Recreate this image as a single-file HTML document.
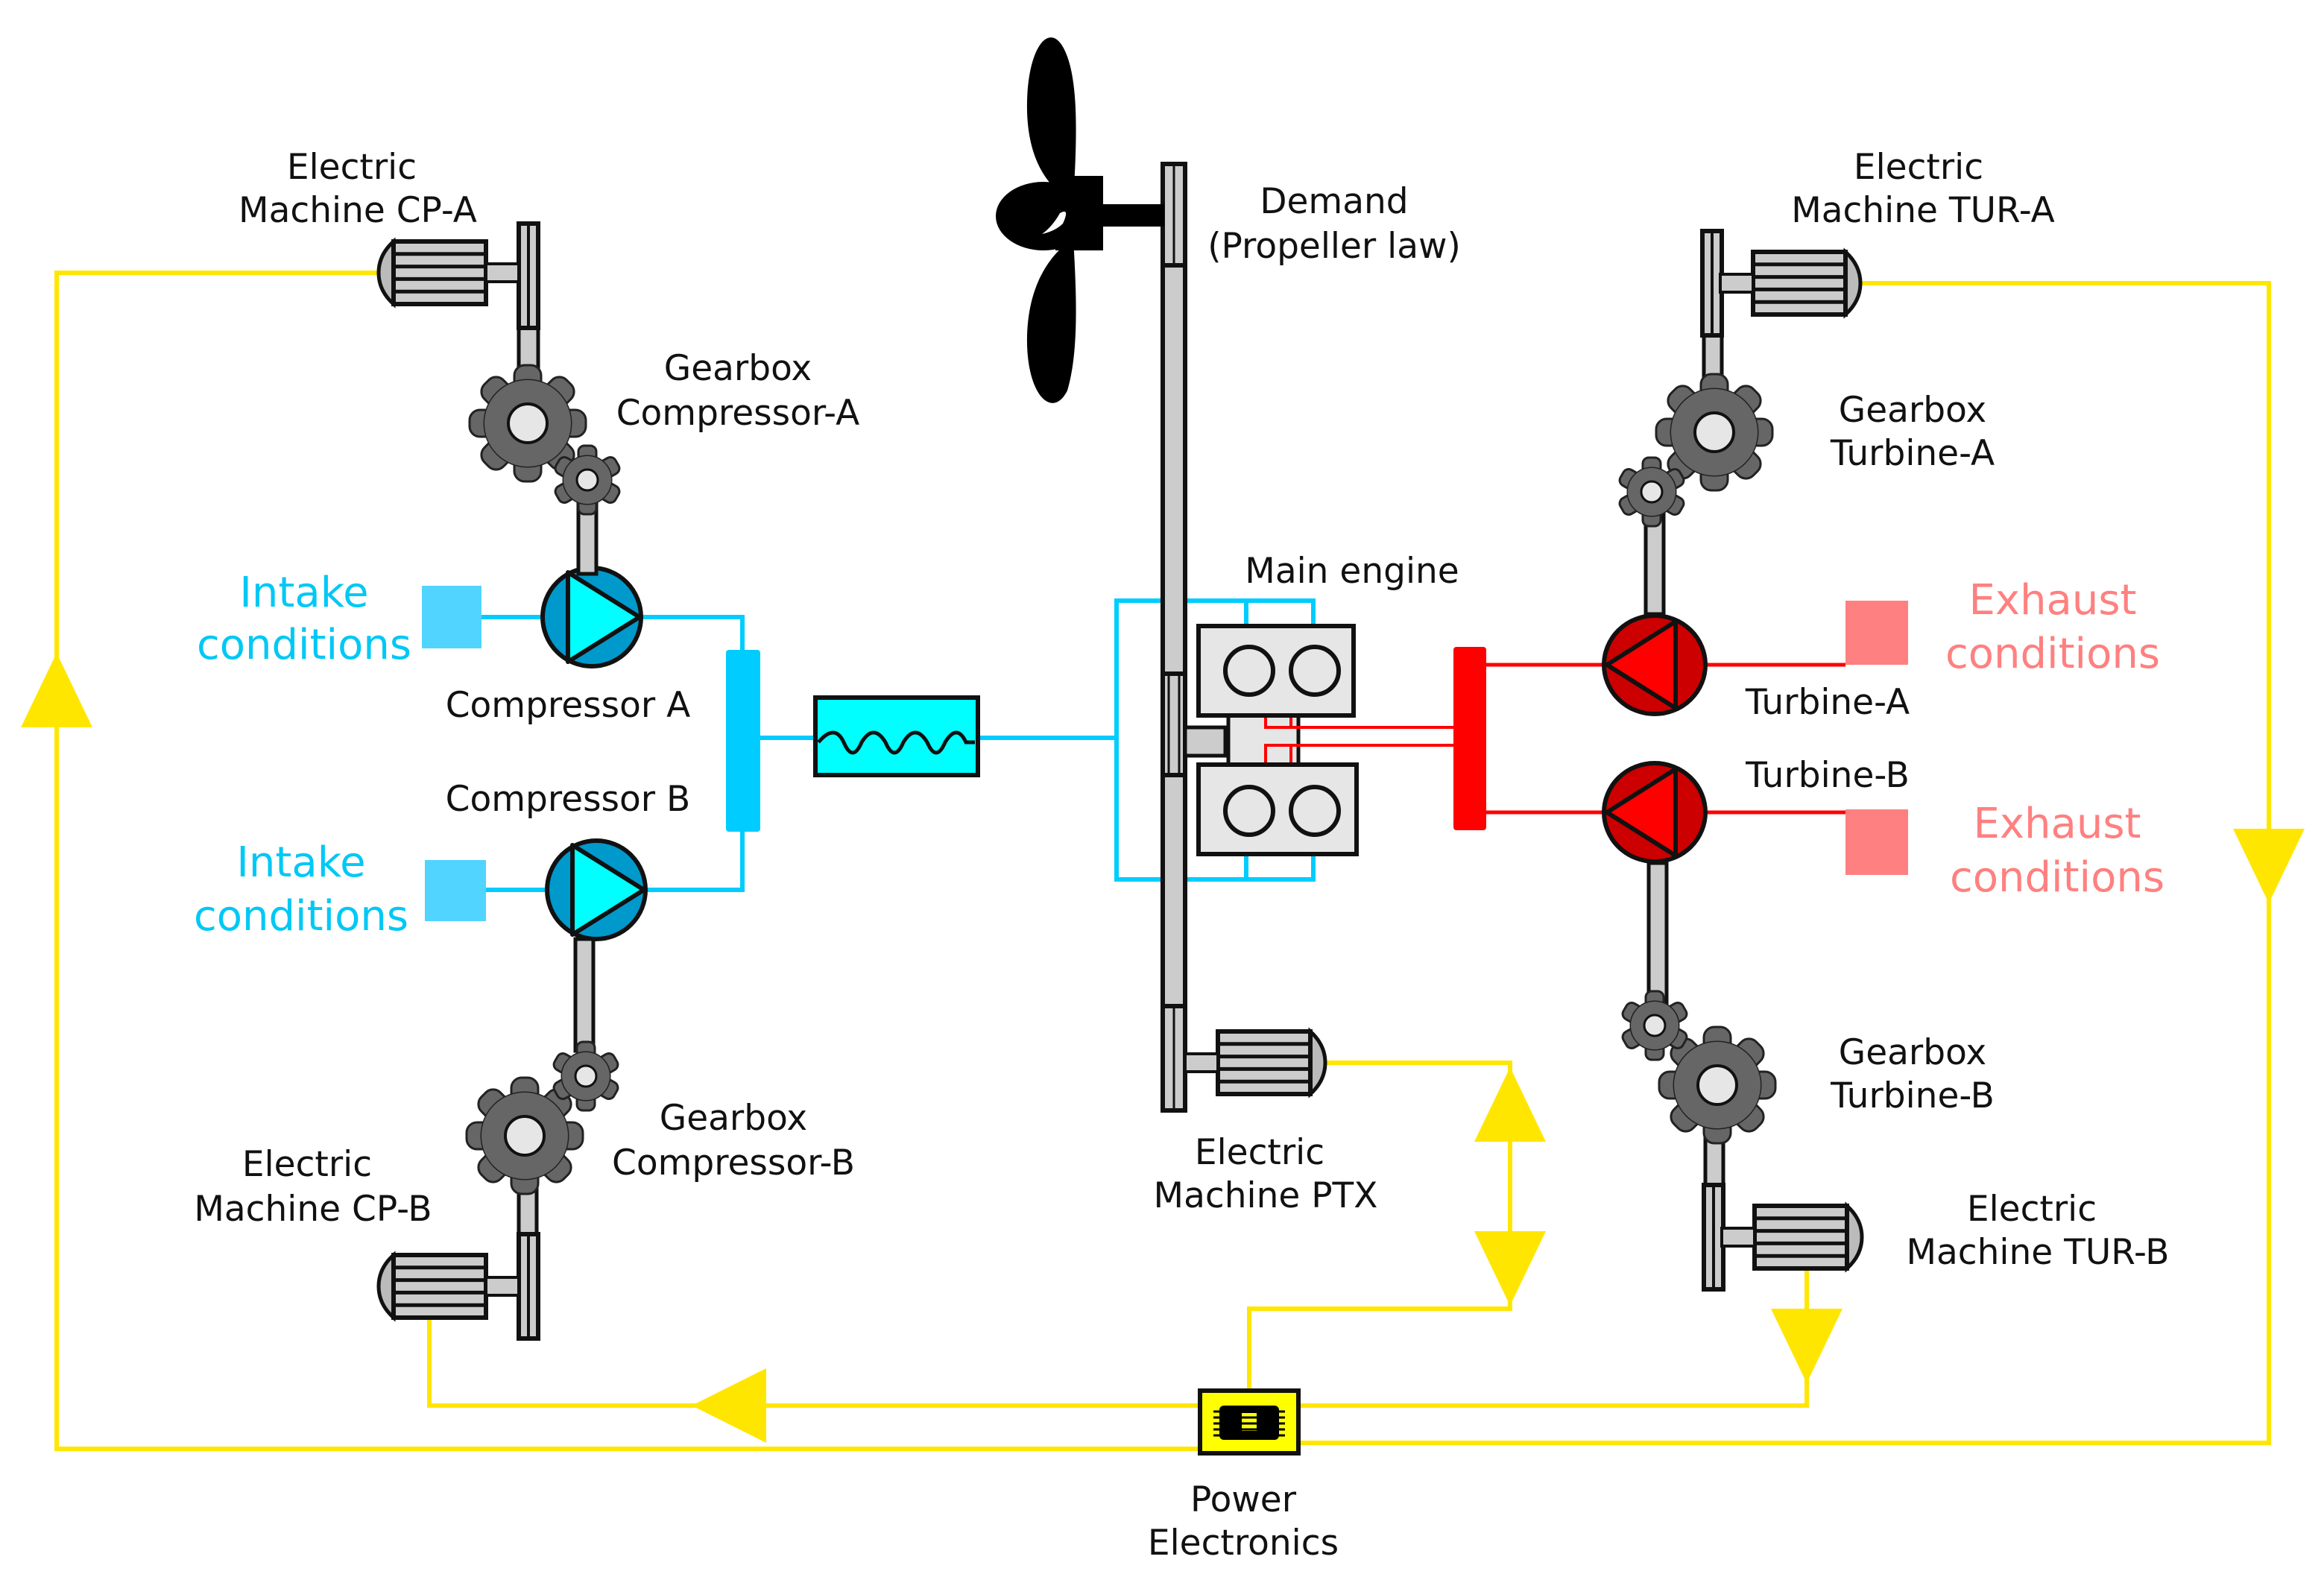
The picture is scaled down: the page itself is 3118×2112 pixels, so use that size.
<!DOCTYPE html>
<html><head><meta charset="utf-8"><style>
html,body{margin:0;padding:0;background:#fff;}
svg{display:block;}
text{font-family:"DejaVu Sans","Liberation Sans",sans-serif;font-size:23.5px;fill:#111;text-anchor:middle;}
.c{fill:#00c8f5;font-size:28px;}
.r{fill:#ff8080;font-size:28px;}
</style></head><body>
<svg width="3118" height="2112" viewBox="0 0 1559 1056" xmlns="http://www.w3.org/2000/svg">
<defs>
<g id="gearB">
  <g fill="#666" stroke="#222" stroke-width="1.5">
    <rect x="-9" y="-39" width="18" height="18" rx="7"/>
    <rect x="-9" y="-39" width="18" height="18" rx="7" transform="rotate(45)"/>
    <rect x="-9" y="-39" width="18" height="18" rx="7" transform="rotate(90)"/>
    <rect x="-9" y="-39" width="18" height="18" rx="7" transform="rotate(135)"/>
    <rect x="-9" y="-39" width="18" height="18" rx="7" transform="rotate(180)"/>
    <rect x="-9" y="-39" width="18" height="18" rx="7" transform="rotate(225)"/>
    <rect x="-9" y="-39" width="18" height="18" rx="7" transform="rotate(270)"/>
    <rect x="-9" y="-39" width="18" height="18" rx="7" transform="rotate(315)"/>
    <circle r="29"/>
  </g>
  <circle r="29" fill="#666"/>
  <circle r="13" fill="#e6e6e6" stroke="#111" stroke-width="2"/>
</g>
<g id="gearS">
  <g fill="#666" stroke="#222" stroke-width="1.5">
    <rect x="-6" y="-23" width="12" height="11" rx="4"/>
    <rect x="-6" y="-23" width="12" height="11" rx="4" transform="rotate(60)"/>
    <rect x="-6" y="-23" width="12" height="11" rx="4" transform="rotate(120)"/>
    <rect x="-6" y="-23" width="12" height="11" rx="4" transform="rotate(180)"/>
    <rect x="-6" y="-23" width="12" height="11" rx="4" transform="rotate(240)"/>
    <rect x="-6" y="-23" width="12" height="11" rx="4" transform="rotate(300)"/>
    <circle r="16"/>
  </g>
  <circle r="16" fill="#666"/>
  <circle r="7" fill="#e6e6e6" stroke="#111" stroke-width="1.5"/>
</g>
<g id="motorL">
  <path d="M2,-21 Q-8,-12 -8,0 Q-8,12 2,21 Z" fill="#bbb" stroke="#111" stroke-width="2.5"/>
  <rect x="2" y="-21" width="62" height="42" fill="#ccc" stroke="#111" stroke-width="3"/>
  <g stroke="#111" stroke-width="2.5"><line x1="2" y1="-12.6" x2="64" y2="-12.6"/><line x1="2" y1="-4.2" x2="64" y2="-4.2"/><line x1="2" y1="4.2" x2="64" y2="4.2"/><line x1="2" y1="12.6" x2="64" y2="12.6"/></g>
  <rect x="64" y="-6" width="22" height="12" fill="#ccc" stroke="#111" stroke-width="2"/>
</g>
<g id="vbar">
  <rect x="0" y="0" width="13" height="70" fill="#ccc" stroke="#111" stroke-width="3"/>
  <line x1="6.5" y1="0" x2="6.5" y2="70" stroke="#111" stroke-width="2"/>
</g>
</defs>

<g fill="none" stroke="#ffe600" stroke-width="3">
  <polyline points="255,183 38,183 38,972 806,972"/>
  <polyline points="288,884 288,943 806,943"/>
  <polyline points="1248,190 1522,190 1522,968 870,968"/>
  <polyline points="870,943 1212,943 1212,852"/>
  <polyline points="888,713 1013,713 1013,878 838,878 838,934"/>
</g>
<g fill="#ffe600">
  <polygon points="38,438 14,488 62,488"/>
  <polygon points="1522,606 1498,556 1546,556"/>
  <polygon points="464,943 514,918 514,968"/>
  <polygon points="1013,716 989,766 1037,766"/>
  <polygon points="1013,876 989,826 1037,826"/>
  <polygon points="1212,928 1188,878 1236,878"/>
</g>
<rect x="805" y="933" width="66" height="42" fill="#ffff00" stroke="#111" stroke-width="3"/>
<rect x="818" y="943" width="40" height="23" rx="3" fill="#000"/>
<rect x="833" y="948" width="10" height="12" fill="#ffff00"/>
<g stroke="#000" stroke-width="1.5"><line x1="814" y1="947" x2="862" y2="947"/><line x1="814" y1="951" x2="862" y2="951"/><line x1="814" y1="955" x2="862" y2="955"/><line x1="814" y1="959" x2="862" y2="959"/><line x1="814" y1="963" x2="862" y2="963"/></g>

<g fill="none" stroke="#00ccff" stroke-width="3">
  <line x1="323" y1="414" x2="365" y2="414"/>
  <polyline points="430,414 498,414 498,440"/>
  <line x1="326" y1="597" x2="368" y2="597"/>
  <polyline points="434,597 498,597 498,556"/>
  <line x1="510" y1="495" x2="548" y2="495"/>
  <line x1="656" y1="495" x2="749" y2="495"/>
  <polyline points="836,420 836,403 749,403 749,590 836,590 836,573"/>
  <polyline points="836,403 881,403 881,420"/>
  <polyline points="836,590 881,590 881,573"/>
</g>
<rect x="283" y="393" width="40" height="42" fill="#33ccff" opacity="0.85"/>
<rect x="285" y="577" width="41" height="41" fill="#33ccff" opacity="0.85"/>
<rect x="487" y="436" width="23" height="122" rx="2" fill="#00ccff"/>
<rect x="547" y="468" width="109" height="52" fill="#00ffff" stroke="#111" stroke-width="3"/>
<path d="M549,498 Q560,485 566,498 Q572,512 578,498 Q586,485 594,498 Q600,512 606,498 Q614,485 622,498 Q628,512 634,498 Q642,485 648,498 L654,498" fill="none" stroke="#111" stroke-width="2.5"/>

<g>
  <ellipse cx="397" cy="414" rx="33" ry="33" fill="#0099cc" stroke="#111" stroke-width="3"/>
  <polygon points="381,384 429,414 381,444" fill="#00ffff" stroke="#111" stroke-width="3" stroke-linejoin="round"/>
  <ellipse cx="400" cy="597" rx="33" ry="33" fill="#0099cc" stroke="#111" stroke-width="3"/>
  <polygon points="384,567 432,597 384,627" fill="#00ffff" stroke="#111" stroke-width="3" stroke-linejoin="round"/>
</g>

<g fill="none" stroke="#ff0000" stroke-width="2.5">
  <line x1="997" y1="446" x2="1076" y2="446"/>
  <line x1="1144" y1="446" x2="1238" y2="446"/>
  <line x1="997" y1="545" x2="1076" y2="545"/>
  <line x1="1144" y1="545" x2="1238" y2="545"/>
</g>
<rect x="1238" y="403" width="42" height="43" fill="#ff8080"/>
<rect x="1238" y="543" width="42" height="44" fill="#ff8080"/>
<rect x="975" y="434" width="22" height="123" rx="2" fill="#ff0000"/>

<rect x="348" y="218" width="13" height="40" fill="#ccc" stroke="#111" stroke-width="2.5"/>
<rect x="388" y="335" width="12" height="50" fill="#ccc" stroke="#111" stroke-width="2.5"/>
<use href="#vbar" x="348" y="150"/>
<use href="#motorL" x="262" y="183"/>
<use href="#gearB" x="354" y="284"/>
<use href="#gearS" x="394" y="322"/>
<rect x="386" y="630" width="12" height="75" fill="#ccc" stroke="#111" stroke-width="2.5"/>
<rect x="348" y="790" width="12" height="40" fill="#ccc" stroke="#111" stroke-width="2.5"/>
<use href="#vbar" x="348" y="828"/>
<use href="#motorL" x="262" y="863"/>
<use href="#gearB" x="352" y="762"/>
<use href="#gearS" x="393" y="722"/>
<rect x="1104" y="340" width="12" height="72" fill="#ccc" stroke="#111" stroke-width="2.5"/>
<rect x="1143" y="222" width="12" height="40" fill="#ccc" stroke="#111" stroke-width="2.5"/>
<use href="#vbar" x="1142" y="155"/>
<use href="#motorL" transform="translate(1240,190) scale(-1,1)"/>
<use href="#gearB" x="1150" y="290"/>
<use href="#gearS" x="1108" y="330"/>
<rect x="1106" y="579" width="12" height="100" fill="#ccc" stroke="#111" stroke-width="2.5"/>
<rect x="1144" y="758" width="12" height="40" fill="#ccc" stroke="#111" stroke-width="2.5"/>
<use href="#vbar" x="1143" y="795"/>
<use href="#motorL" transform="translate(1241,830) scale(-1,1)"/>
<use href="#gearB" x="1152" y="728"/>
<use href="#gearS" x="1110" y="688"/>
<ellipse cx="1110" cy="446" rx="34" ry="33" fill="#cc0000" stroke="#111" stroke-width="3"/>
<polygon points="1078,446 1124,417 1124,475" fill="#ff0000" stroke="#111" stroke-width="3" stroke-linejoin="round"/>
<ellipse cx="1110" cy="545" rx="34" ry="33" fill="#cc0000" stroke="#111" stroke-width="3"/>
<polygon points="1078,545 1124,516 1124,574" fill="#ff0000" stroke="#111" stroke-width="3" stroke-linejoin="round"/>

<rect x="780" y="110" width="15" height="635" fill="#ccc" stroke="#111" stroke-width="3"/>
<g stroke="#111" stroke-width="3" fill="none">
  <line x1="780" y1="178" x2="795" y2="178"/>
  <line x1="780" y1="452" x2="795" y2="452"/><line x1="780" y1="520" x2="795" y2="520"/>
  <line x1="780" y1="675" x2="795" y2="675"/>
</g>
<g stroke="#111" stroke-width="1.5">
  <line x1="787.5" y1="110" x2="787.5" y2="178"/><line x1="784" y1="452" x2="784" y2="520"/><line x1="791" y1="452" x2="791" y2="520"/><line x1="787.5" y1="675" x2="787.5" y2="745"/>
</g>
<g fill="#000">
  <path d="M716,38 C706,10 688,30 689,75 C690,110 705,128 720,135 C722,100 724,60 716,38 Z"/>
  <path d="M716,262 C706,282 688,265 689,225 C690,190 705,170 720,160 C722,195 724,235 716,262 Z"/>
  <ellipse cx="700" cy="145" rx="32" ry="23"/>
  <rect x="708" y="118" width="32" height="50"/>
  <rect x="738" y="137" width="43" height="15"/>
</g>
<path d="M711,143 Q718,139 713,150 Q708,155 699,157 Q706,152 711,143 Z" fill="#fff"/>

<rect x="824" y="478" width="47" height="37" fill="#e6e6e6" stroke="#111" stroke-width="2.5"/>
<rect x="795" y="488" width="27" height="19" fill="#ccc" stroke="#111" stroke-width="2.5"/>
<g fill="none" stroke="#ff0000" stroke-width="2">
  <polyline points="849,480 849,488 975,488"/>
  <polyline points="849,513 849,500 975,500"/>
  <line x1="866" y1="480" x2="866" y2="488"/><line x1="866" y1="500" x2="866" y2="513"/>
</g>
<rect x="804" y="420" width="104" height="60" fill="#e6e6e6" stroke="#111" stroke-width="3"/>
<rect x="804" y="513" width="106" height="60" fill="#e6e6e6" stroke="#111" stroke-width="3"/>
<g fill="none" stroke="#111" stroke-width="3">
  <circle cx="838" cy="450" r="16"/><circle cx="882" cy="450" r="16"/>
  <circle cx="838" cy="544" r="16"/><circle cx="882" cy="544" r="16"/>
</g>

<use href="#motorL" transform="translate(881,713) scale(-1,1)"/>
<rect x="795" y="707" width="22" height="12" fill="#ccc" stroke="#111" stroke-width="2"/>

<text x="236" y="120">Electric</text><text x="240" y="149">Machine CP-A</text>
<text x="495" y="255">Gearbox</text><text x="495" y="285">Compressor-A</text>
<text x="895" y="143">Demand</text><text x="895" y="173">(Propeller law)</text>
<text x="1287" y="120">Electric</text><text x="1290" y="149">Machine TUR-A</text>
<text x="1283" y="283">Gearbox</text><text x="1283" y="312">Turbine-A</text>
<text x="907" y="391">Main engine</text>
<text class="c" x="204" y="407">Intake</text><text class="c" x="204" y="442">conditions</text>
<text class="c" x="202" y="588">Intake</text><text class="c" x="202" y="624">conditions</text>
<text x="381" y="481">Compressor A</text><text x="381" y="544">Compressor B</text>
<text class="r" x="1377" y="412">Exhaust</text><text class="r" x="1377" y="448">conditions</text>
<text class="r" x="1380" y="562">Exhaust</text><text class="r" x="1380" y="598">conditions</text>
<text x="1226" y="479">Turbine-A</text><text x="1226" y="528">Turbine-B</text>
<text x="1283" y="714">Gearbox</text><text x="1283" y="743">Turbine-B</text>
<text x="845" y="781">Electric</text><text x="849" y="810">Machine PTX</text>
<text x="492" y="758">Gearbox</text><text x="492" y="788">Compressor-B</text>
<text x="206" y="789">Electric</text><text x="210" y="819">Machine CP-B</text>
<text x="1363" y="819">Electric</text><text x="1367" y="848">Machine TUR-B</text>
<text x="834" y="1014">Power</text><text x="834" y="1043">Electronics</text>
</svg>
</body></html>
